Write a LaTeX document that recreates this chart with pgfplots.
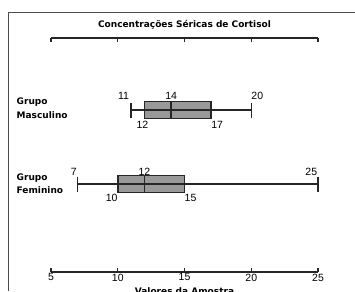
\documentclass[border=0pt]{standalone}
\usepackage{pgfplots}
\pgfplotsset{compat=1.18}
\usepgfplotslibrary{statistics}
\usepackage{fontspec}
\setmainfont{Liberation Sans}
\newfontfamily\verd{DejaVu Sans}
\newcommand{\lab}{\fontsize{10.5}{12}\selectfont}
\newcommand{\bl}{\verd\bfseries\fontsize{9}{11}\selectfont}
\newcommand{\tl}{\verd\bfseries\fontsize{9}{11}\selectfont}
\begin{document}
\begin{tikzpicture}[x=1pt,y=1pt]
\path[use as bounding box] (0pt,0pt) rectangle (355pt,-291pt);
\clip (0pt,0pt) rectangle (355pt,-291pt);
\draw[line width=1pt, black!70] (8pt,-291pt) -- (8pt,-12.5pt) -- (356pt,-12.5pt);
\node[font=\tl, anchor=base] at (184.5pt,-27.5pt) {Concentrações Séricas de Cortisol};
\node[font=\bl, anchor=base west, inner sep=0] at (16.5pt,-105pt) {Grupo};
\node[font=\bl, anchor=base west, inner sep=0] at (16.5pt,-118pt) {Masculino};
\node[font=\bl, anchor=base west, inner sep=0] at (16.5pt,-180pt) {Grupo};
\node[font=\bl, anchor=base west, inner sep=0] at (16.5pt,-193pt) {Feminino};
\begin{axis}[
  at={(51pt,-272pt)}, anchor=south west,
  scale only axis, width=267pt, height=234pt,
  xmin=5, xmax=25, ymin=0, ymax=234,
  separate axis lines,
  y axis line style={draw=none},
  x axis line style={line width=1.6pt, black!85},
  ytick=\empty,
  xtick={5,10,15,20,25},
  major tick length=4.5pt,
  xtick style={line width=1.4pt, black!85},
  /pgf/number format/assume math mode=true,
  xticklabel style={font=\lab, inner sep=1pt, yshift=-0.5pt},
  clip=false,
  boxplot/draw direction=x,
]
\addplot[boxplot prepared={lower whisker=11, lower quartile=12, median=14,
  upper quartile=17, upper whisker=20, draw position=162,
  box extend=17, whisker extend=15},
  draw=black!85, fill=black!40, line width=1.5pt, solid] coordinates {};
\addplot[black!85, line width=1.5pt] coordinates {(11,162) (20,162)};
\addplot[boxplot prepared={lower whisker=7, lower quartile=10, median=12,
  upper quartile=15, upper whisker=25, draw position=88,
  box extend=17, whisker extend=15},
  draw=black!85, fill=black!40, line width=1.5pt, solid] coordinates {};
\addplot[black!85, line width=1.5pt] coordinates {(7,88) (25,88)};
% value labels, male
\node[font=\lab, anchor=base east, inner sep=0] at (axis cs:10.85,172) {11};
\node[font=\lab, anchor=base, inner sep=0] at (axis cs:14,172) {14};
\node[font=\lab, anchor=base west, inner sep=0] at (axis cs:20,172) {20};
\node[font=\lab, anchor=base, inner sep=0] at (axis cs:11.85,144) {12};
\node[font=\lab, anchor=base west, inner sep=0] at (axis cs:17,144) {17};
% value labels, female
\node[font=\lab, anchor=base east, inner sep=0] at (axis cs:6.95,97) {7};
\node[font=\lab, anchor=base, inner sep=0] at (axis cs:12,97) {12};
\node[font=\lab, anchor=base east, inner sep=0] at (axis cs:24.95,97) {25};
\node[font=\lab, anchor=base east, inner sep=0] at (axis cs:10,71) {10};
\node[font=\lab, anchor=base west, inner sep=0] at (axis cs:15,71) {15};
\node[font=\bl, anchor=base] at (axis description cs:0.5,0) [yshift=-22.5pt] {Valores da Amostra};
\end{axis}
\end{tikzpicture}
\end{document}
